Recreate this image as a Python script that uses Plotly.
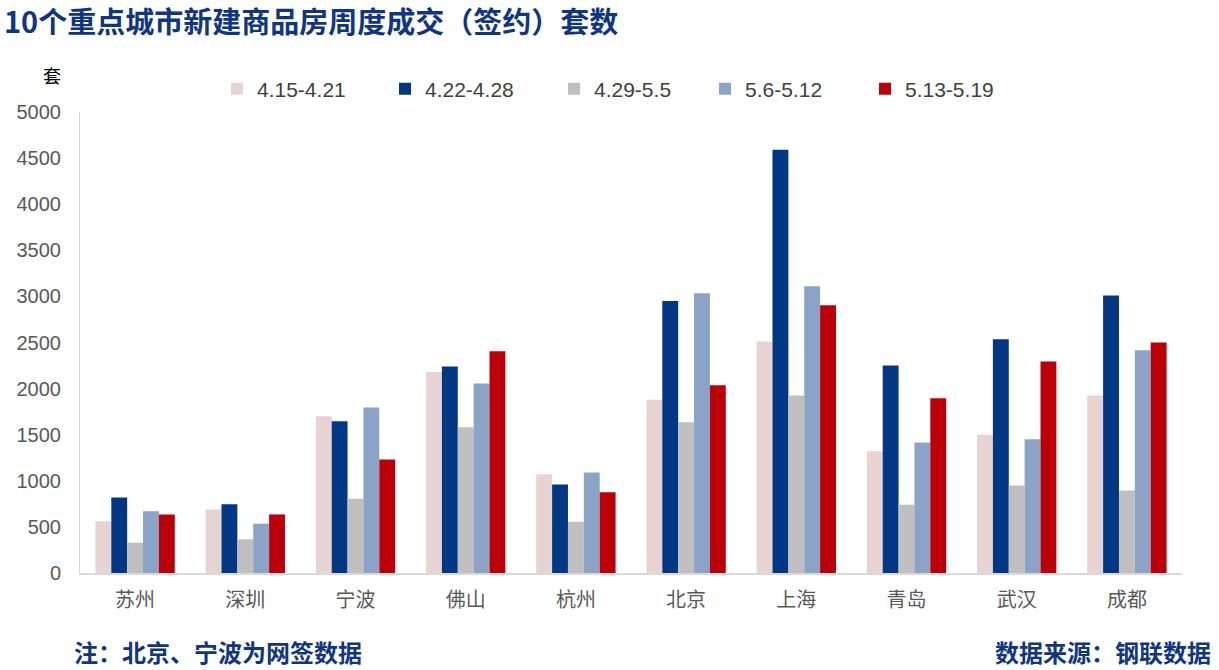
import plotly.graph_objects as go

cities = ["苏州", "深圳", "宁波", "佛山", "杭州", "北京", "上海", "青岛", "武汉", "成都"]
weeks = ["4.15-4.21", "4.22-4.28", "4.29-5.5", "5.6-5.12", "5.13-5.19"]
w1 = [560, 690, 1700, 2180, 1070, 1880, 2510, 1320, 1500, 1925]
w2 = [820, 745, 1645, 2240, 960, 2950, 4590, 2250, 2535, 3010]
w3 = [330, 365, 805, 1580, 555, 1635, 1925, 740, 950, 895]
w4 = [670, 535, 1795, 2055, 1090, 3035, 3110, 1415, 1450, 2415]
w5 = [635, 635, 1230, 2405, 875, 2035, 2905, 1895, 2295, 2500]
series = [w1, w2, w3, w4, w5]
colors = ["#E8D3D3", "#023883", "#BFBFBF", "#8AA3C6", "#BB0009"]

# plot area: x 80..1182, y 112..573
L, R, T, B = 80, 1182, 112, 573
W, H = 1219, 670
PW, PH = R - L, B - T

def px_x(p):
    return (p - L) / PW

def px_y(p):
    return (B - p) / PH

legend_text_starts = [257, 425, 594, 745, 905]
legend_names = ["legend", "legend2", "legend3", "legend4", "legend5"]

fig = go.Figure()
for name, vals, c, lg in zip(weeks, series, colors, legend_names):
    fig.add_trace(go.Bar(x=cities, y=vals, name=name, legend=lg,
                         marker=dict(color=c, line=dict(width=0))))

font_cjk = "Noto Sans CJK SC, sans-serif"
font_num = "Liberation Sans, Arial, sans-serif"
legend_cfg = {}
for lg, ts in zip(legend_names, legend_text_starts):
    legend_cfg[lg] = dict(orientation="h", x=px_x(ts - 40), xanchor="left",
                          y=px_y(89), yanchor="middle",
                          font=dict(size=21, color="#404040", family=font_num),
                          itemwidth=30, itemclick=False, itemdoubleclick=False,
                          bgcolor="rgba(0,0,0,0)", borderwidth=0)

fig.update_layout(
    width=W, height=H,
    paper_bgcolor="white", plot_bgcolor="white",
    margin=dict(l=L, r=W - R, t=T, b=H - B, pad=0),
    barmode="group", bargap=0.28, bargroupgap=0,
    font=dict(family=font_cjk, color="#595959", size=17),
    showlegend=True,
    xaxis=dict(showline=True, linecolor="#D9D9D9", linewidth=1.5, ticks="", showgrid=False,
               tickfont=dict(size=20, color="#595959", family=font_cjk), ticklabelstandoff=8),
    yaxis=dict(range=[0, 5000], dtick=500, showgrid=False, showline=True, linecolor="#D9D9D9",
               linewidth=1, ticks="", zeroline=False, ticklabelstandoff=14,
               tickfont=dict(size=20, color="#595959", family=font_num)),
    title=dict(text="<b>10个重点城市新建商品房周度成交（签约）套数</b>", x=4 / W, xanchor="left",
               y=1 - 23 / H, yanchor="middle", font=dict(size=29, color="#0F3583", family=font_cjk)),
    **legend_cfg,
)
fig.add_annotation(text="套", xref="paper", yref="paper", x=px_x(52), y=px_y(75), showarrow=False,
                   font=dict(size=18, color="#000000", family=font_cjk), xanchor="center", yanchor="middle")
fig.add_annotation(text="<b>注：北京、宁波为网签数据</b>", xref="paper", yref="paper",
                   x=px_x(72), y=px_y(651), xanchor="left", yanchor="middle", showarrow=False,
                   font=dict(size=24, color="#0F3583", family=font_cjk))
fig.add_annotation(text="<b>数据来源：钢联数据</b>", xref="paper", yref="paper",
                   x=px_x(1213), y=px_y(651), xanchor="right", yanchor="middle", showarrow=False,
                   font=dict(size=24, color="#0F3583", family=font_cjk))
fig.write_html("out.html", config={"displayModeBar": False},
               post_script="document.body.style.margin='0';document.body.style.padding='0';document.body.style.overflow='hidden';")
